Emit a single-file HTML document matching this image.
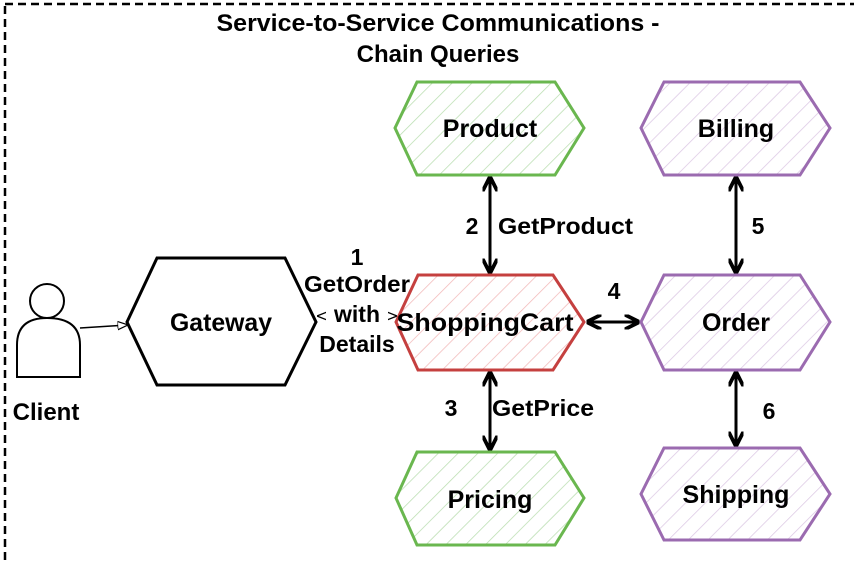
<!DOCTYPE html>
<html><head><style>
html,body{margin:0;padding:0;background:#fff;width:854px;height:565px;overflow:hidden}
svg{display:block}
svg text{font-family:"Liberation Sans",Arial,sans-serif;font-weight:bold;fill:#000}
</style></head><body>
<svg width="854" height="565" viewBox="0 0 854 565" xmlns="http://www.w3.org/2000/svg">
<defs>
<pattern id="hg" patternUnits="userSpaceOnUse" width="14" height="14" patternTransform="rotate(45)"><line x1="0" y1="0" x2="0" y2="14" stroke="#b9deb0" stroke-width="1.5"/></pattern>
<pattern id="hr" patternUnits="userSpaceOnUse" width="14" height="14" patternTransform="rotate(45)"><line x1="0" y1="0" x2="0" y2="14" stroke="#f2b8b8" stroke-width="1.5"/></pattern>
<pattern id="hp" patternUnits="userSpaceOnUse" width="14" height="14" patternTransform="rotate(45)"><line x1="0" y1="0" x2="0" y2="14" stroke="#dcc8e4" stroke-width="1.5"/></pattern>
<marker id="a" viewBox="0 0 10 10" refX="9" refY="5" markerWidth="5" markerHeight="5" orient="auto-start-reverse"><path d="M0,0 L10,5 L0,10" fill="none" stroke="#000" stroke-width="2.5"/></marker>
<marker id="o" viewBox="0 0 10 10" refX="9" refY="5" markerWidth="7" markerHeight="7" orient="auto-start-reverse"><path d="M0,1 L10,5 L0,9 Z" fill="#fff" stroke="#000" stroke-width="1.2"/></marker>
</defs>
<rect x="5" y="4" width="900" height="600" fill="none" stroke="#000" stroke-width="2.5" stroke-dasharray="8,5"/>
<text x="438" y="31" font-size="24" text-anchor="middle" textLength="443" lengthAdjust="spacingAndGlyphs">Service-to-Service Communications -</text>
<text x="438" y="62" font-size="24" text-anchor="middle">Chain Queries</text>

<path d="M17,377 L17,345 Q17,318 47,318 Q80,318 80,345 L80,377 Z" fill="#fff" stroke="#000" stroke-width="2"/>
<circle cx="47" cy="301" r="17" fill="#fff" stroke="#000" stroke-width="2"/>
<text x="46" y="420" font-size="24" text-anchor="middle">Client</text>
<line x1="80" y1="328" x2="127" y2="325" stroke="#000" stroke-width="1.5" marker-end="url(#o)"/>

<polygon points="157,258 285,258 316,322 285,385 157,385 127,322" fill="#fff" stroke="#000" stroke-width="3"/>
<text x="221" y="331" font-size="25" text-anchor="middle" textLength="102" lengthAdjust="spacingAndGlyphs">Gateway</text>
<line x1="318" y1="316" x2="396" y2="316" stroke="#000" stroke-width="1.5" marker-start="url(#o)" marker-end="url(#o)"/>
<rect x="326" y="298" width="62" height="56" fill="#fff"/>
<text x="357" y="265" font-size="23" text-anchor="middle">1</text>
<text x="357" y="292" font-size="23" text-anchor="middle" textLength="106" lengthAdjust="spacingAndGlyphs">GetOrder</text>
<text x="357" y="322" font-size="23" text-anchor="middle">with</text>
<text x="357" y="352" font-size="23" text-anchor="middle">Details</text>

<polygon points="417,82 555,82 584,128 555,175 417,175 395,128" fill="url(#hg)" stroke="#6ab74f" stroke-width="3"/>
<text x="490" y="137" font-size="25" text-anchor="middle">Product</text>
<polygon points="418,275 553,275 584,322 553,370 418,370 396,322" fill="url(#hr)" stroke="#c5403f" stroke-width="3"/>
<text x="485" y="331" font-size="25" text-anchor="middle" textLength="177" lengthAdjust="spacingAndGlyphs">ShoppingCart</text>
<polygon points="417,452 555,452 584,498 555,545 417,545 396,498" fill="url(#hg)" stroke="#6ab74f" stroke-width="3"/>
<text x="490" y="508" font-size="25" text-anchor="middle">Pricing</text>
<polygon points="664,82 800,82 830,128 800,175 664,175 641,128" fill="url(#hp)" stroke="#9b6bb0" stroke-width="3"/>
<text x="736" y="137" font-size="25" text-anchor="middle">Billing</text>
<polygon points="664,275 800,275 830,322 800,370 664,370 641,322" fill="url(#hp)" stroke="#9b6bb0" stroke-width="3"/>
<text x="736" y="331" font-size="25" text-anchor="middle">Order</text>
<polygon points="664,448 800,448 830,494 800,540 664,540 641,494" fill="url(#hp)" stroke="#9b6bb0" stroke-width="3"/>
<text x="736" y="503" font-size="25" text-anchor="middle">Shipping</text>

<line x1="490" y1="178" x2="490" y2="272" stroke="#000" stroke-width="3" marker-start="url(#a)" marker-end="url(#a)"/>
<text x="472" y="234" font-size="23" text-anchor="middle">2</text>
<text x="498" y="234" font-size="23" textLength="135" lengthAdjust="spacingAndGlyphs">GetProduct</text>
<line x1="490" y1="373" x2="490" y2="449" stroke="#000" stroke-width="3" marker-start="url(#a)" marker-end="url(#a)"/>
<text x="451" y="416" font-size="23" text-anchor="middle">3</text>
<text x="492" y="416" font-size="23" textLength="102" lengthAdjust="spacingAndGlyphs">GetPrice</text>
<line x1="588" y1="322" x2="638" y2="322" stroke="#000" stroke-width="3" marker-start="url(#a)" marker-end="url(#a)"/>
<text x="614" y="299" font-size="23" text-anchor="middle">4</text>
<line x1="736" y1="178" x2="736" y2="272" stroke="#000" stroke-width="3" marker-start="url(#a)" marker-end="url(#a)"/>
<text x="758" y="234" font-size="23" text-anchor="middle">5</text>
<line x1="736" y1="373" x2="736" y2="445" stroke="#000" stroke-width="3" marker-start="url(#a)" marker-end="url(#a)"/>
<text x="769" y="419" font-size="23" text-anchor="middle">6</text>
</svg>
</body></html>
